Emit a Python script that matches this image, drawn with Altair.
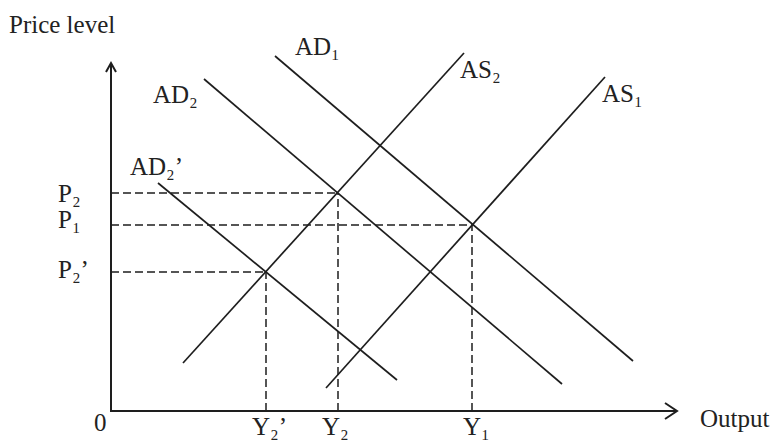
import altair as alt
import pandas as pd

# ---- data (units: output on x, price level on y) ----
curve_names = ["AD1", "AD2", "AD2'", "AS2", "AS1"]
curve_x_start = [16.4, 9.3, 4.7, 7.2, 21.5]
curve_y_start = [35.5, 33.2, 22.8, 4.8, 2.3]
curve_x_end = [52.2, 45.1, 28.6, 35.3, 49.4]
curve_y_end = [5.0, 2.7, 3.1, 35.8, 33.4]

eq_names = ["E2", "E1", "E2'"]
eq_x = [22.7, 36.1, 15.5]
eq_y = [21.8, 18.6, 13.9]

axis_top = 34.8
axis_right = 56.6

label_text = ["Price level", "AD\u2081", "AD\u2082", "AD\u2082\u2019", "AS\u2082", "AS\u2081",
              "P\u2082", "P\u2081", "P\u2082\u2019", "0", "Y\u2082\u2019", "Y\u2082", "Y\u2081", "Output"]
label_x = [-10.2, 18.4, 4.2, 1.9, 34.9, 49.1, -5.3, -5.3, -5.3, -1.7, 14.1, 21.1, 35.2, 58.9]
label_y = [37.8, 35.6, 30.8, 23.6, 33.3, 30.9, 20.9, 18.3, 13.3, -2.0, -2.35, -2.35, -2.35, -1.6]

# ---- tables built from the arrays ----
rows = []
for n, xa, ya, xb, yb in zip(curve_names, curve_x_start, curve_y_start, curve_x_end, curve_y_end):
    rows.append({"curve": n, "pt": 0, "x": xa, "y": ya})
    rows.append({"curve": n, "pt": 1, "x": xb, "y": yb})
curves = pd.DataFrame(rows)

guide_rows = []
for n, ex, ey in zip(eq_names, eq_x, eq_y):
    guide_rows.append({"g": n + "h", "x": 0.0, "y": ey, "x2": ex, "y2": ey})
    guide_rows.append({"g": n + "v", "x": ex, "y": 0.0, "x2": ex, "y2": ey})
guides = pd.DataFrame(guide_rows)

axes = pd.DataFrame([
    {"seg": "axes", "pt": 0, "x": 0.0, "y": axis_top},
    {"seg": "axes", "pt": 1, "x": 0.0, "y": 0.0},
    {"seg": "axes", "pt": 2, "x": axis_right, "y": 0.0},
    {"seg": "yarrow", "pt": 0, "x": -0.5, "y": axis_top - 0.9},
    {"seg": "yarrow", "pt": 1, "x": 0.0, "y": axis_top},
    {"seg": "yarrow", "pt": 2, "x": 0.5, "y": axis_top - 0.9},
    {"seg": "xarrow", "pt": 0, "x": axis_right - 1.2, "y": 0.8},
    {"seg": "xarrow", "pt": 1, "x": axis_right, "y": 0.0},
    {"seg": "xarrow", "pt": 2, "x": axis_right - 1.2, "y": -0.8},
])

labels = pd.DataFrame({"text": label_text, "x": label_x, "y": label_y})

xsc = alt.Scale(domain=[0, 58], nice=False, zero=False)
ysc = alt.Scale(domain=[0, 37], nice=False, zero=False)
X = alt.X("x:Q", scale=xsc, axis=None)
Y = alt.Y("y:Q", scale=ysc, axis=None)

ink = "#1e1e1e"

guide_layer = alt.Chart(guides).mark_rule(color=ink, strokeWidth=1.5, strokeDash=[8, 4]).encode(
    x=X, y=Y, x2="x2:Q", y2="y2:Q")

curve_layer = alt.Chart(curves).mark_line(color=ink, strokeWidth=1.7).encode(
    x=X, y=Y, detail="curve:N", order="pt:O")

axis_layer = alt.Chart(axes).mark_line(color=ink, strokeWidth=2, strokeJoin="miter").encode(
    x=X, y=Y, detail="seg:N", order="pt:O")

text_layer = alt.Chart(labels).mark_text(
    font="Liberation Serif", fontSize=25, align="left", baseline="alphabetic", color="#222222"
).encode(x=X, y=Y, text="text:N")

chart = alt.layer(guide_layer, curve_layer, axis_layer, text_layer).properties(
    width=580, height=370,
    padding={"left": 103, "top": 33, "right": 79, "bottom": 30},
    autosize=alt.AutoSizeParams(type="none"),
    background="white",
).configure_view(strokeWidth=0)

chart.save("out.html", embed_options={"renderer": "svg", "actions": False})
